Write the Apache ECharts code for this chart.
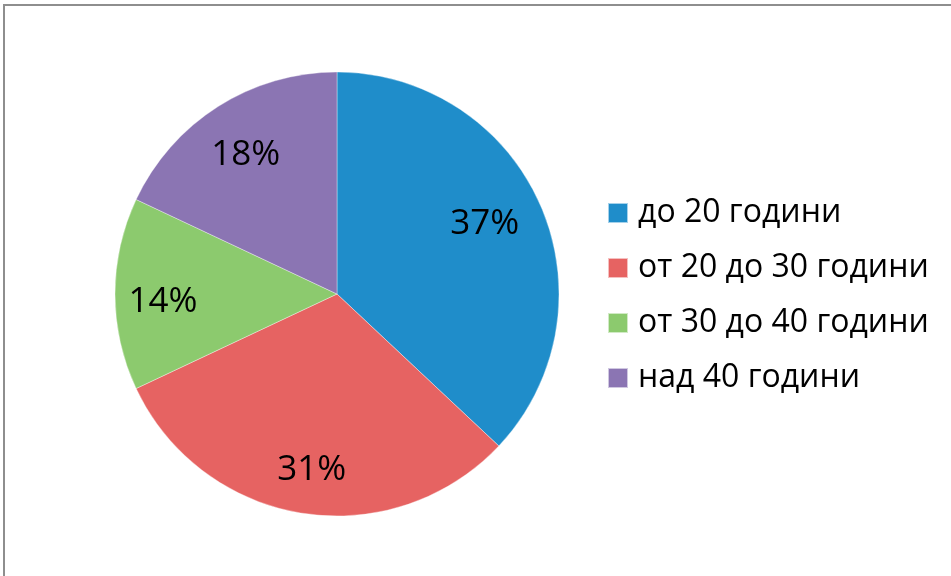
<!DOCTYPE html>
<html>
<head>
<meta charset="utf-8">
<script src="https://cdn.jsdelivr.net/npm/echarts@6/dist/echarts.min.js"></script>
<style>html,body{margin:0;padding:0;background:#fff}#c{width:951px;height:576px}</style>
</head>
<body>
<div id="c"></div>
<script>
const categories = ['до 20 години', 'от 20 до 30 години', 'от 30 до 40 години', 'над 40 години'];
const values = [37, 31, 14, 18];
const colors = ['#1F8DCA', '#E66362', '#8CCA6E', '#8B75B3'];
// small per-slice label nudges (layout only)
const labelNudge = [[-12, -1], [2, 4], [0, 8], [2, 8]];

const chart = echarts.init(document.getElementById('c'));
const FONT = '"Open Sans", "Noto Sans", sans-serif';
chart.setOption({
  animation: false,
  color: colors,
  graphic: [{
    type: 'rect', shape: { x: 4, y: 5, width: 1200, height: 1000 },
    style: { fill: 'none', stroke: '#8e8e8e', lineWidth: 2 }, silent: true
  }],
  legend: {
    orient: 'vertical', left: 607, top: 197, padding: 0,
    itemWidth: 20, itemHeight: 20, itemGap: 23,
    icon: 'rect',
    textStyle: { fontFamily: FONT, fontSize: 32, color: '#000', padding: [0, 0, 0, 5] },
    data: categories
  },
  series: [{
    type: 'pie', center: [337, 294], radius: [0, 222], startAngle: 90, clockwise: true,
    data: categories.map((n, i) => ({ name: n, value: values[i] })),
    itemStyle: { borderColor: 'rgba(255,255,255,0.6)', borderWidth: 0.6 },
    label: { show: false }, labelLine: { show: false }, emphasis: { disabled: true }, silent: true
  }, {
    type: 'pie', center: [337, 294], radius: [120, 222], startAngle: 90, clockwise: true,
    data: categories.map((n, i) => ({ name: n, value: values[i], label: { offset: labelNudge[i] } })),
    itemStyle: { color: 'rgba(0,0,0,0)' },
    label: { show: true, position: 'inside', formatter: '{c}%', fontFamily: FONT, fontSize: 35, color: '#000' },
    labelLine: { show: false }, emphasis: { disabled: true }, silent: true,
    legendHoverLink: false
  }]
});
</script>
</body>
</html>
